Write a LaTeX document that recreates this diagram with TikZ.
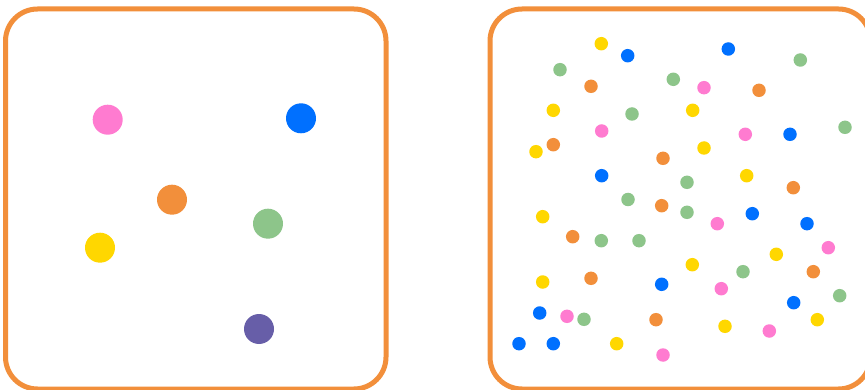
\documentclass[tikz,border=0pt]{standalone}
\definecolor{cpink}{HTML}{FF7BD0}
\definecolor{cblue}{HTML}{0070FF}
\definecolor{corange}{HTML}{F28F3B}
\definecolor{cgreen}{HTML}{8DC58A}
\definecolor{cyellow}{HTML}{FFD700}
\definecolor{cpurple}{HTML}{675EA8}
\tikzset{
  panel/.style={draw=corange, line width=5pt, rounded corners=32pt},
  bigdot/.style={circle, inner sep=0pt, minimum size=30pt, draw=none},
  smalldot/.style={circle, inner sep=0pt, minimum size=13.5pt, draw=none},
}
\begin{document}
\begin{tikzpicture}[x=1pt,y=-1pt]
\useasboundingbox (0,0) rectangle (865,390);
\fill[white] (0,0) rectangle (865,390);
\draw[panel] (5.5,9) rectangle (386,389);
\draw[panel] (490,9) rectangle (870.5,389);
% left panel
\node[bigdot, fill=cpink] (L1) at (107.7,119.7) {};
\node[bigdot, fill=cblue] (L2) at (301,118.3) {};
\node[bigdot, fill=corange] (L3) at (172,199.7) {};
\node[bigdot, fill=cgreen] (L4) at (268,223.7) {};
\node[bigdot, fill=cyellow] (L5) at (100,247.7) {};
\node[bigdot, fill=cpurple] (L6) at (259,329) {};
% right panel
\foreach \n/\c/\x/\y in {
 r1/cyellow/601.3/43.7, r2/cblue/627.7/55.7, r3/cgreen/560/69.7, r4/corange/591/86.3,
 r5/cgreen/673.3/79.3, r6/cyellow/553.3/110.3, r7/cgreen/632/114, r8/cpink/601.7/131,
 r9/corange/553.3/144.7, r10/cyellow/536/151.7, r11/corange/663/158.3, r12/cblue/601.7/175.7,
 r13/cgreen/628/199.5, r14/cblue/728.3/49, r15/cgreen/800.3/60, r16/cpink/704/87.7,
 r17/corange/759/90.3, r18/cyellow/692.7/110.3, r19/cpink/745.3/134.3, r20/cblue/790/134.3,
 r21/cgreen/845/127.3, r22/cyellow/704/148, r23/cyellow/746.7/175.7, r24/cgreen/687/182.3,
 r25/corange/793.3/187.7, r26/corange/661.7/205.7, r27/cyellow/542.7/216.7, r28/corange/572.7/236.7,
 r29/cgreen/601.3/240.7, r30/cgreen/639/240.7, r31/cyellow/542.7/282, r32/corange/591/278.3,
 r33/cblue/661.7/284.3, r34/cblue/539.7/313, r35/cpink/567/316.3, r36/cgreen/584/319.3,
 r37/corange/656/319.7, r38/cblue/519/343.7, r39/cblue/553.3/343.7, r40/cyellow/616.7/343.7,
 r41/cpink/663/355, r42/cgreen/687/212.3, r43/cpink/717.3/223.7, r44/cblue/752.3/213.7,
 r45/cblue/807/223.7, r46/cpink/828.3/247.7, r47/cyellow/776.3/254.3, r48/cyellow/692.3/264.7,
 r49/cgreen/743/271.7, r50/corange/813.3/271.7, r51/cpink/721.3/288.7, r52/cgreen/839.7/295.7,
 r53/cblue/793.7/302.7, r54/cyellow/817.3/319.7, r55/cyellow/725/326.3, r56/cpink/769.3/331}
  \node[smalldot, fill=\c] (\n) at (\x,\y) {};
\end{tikzpicture}
\end{document}
